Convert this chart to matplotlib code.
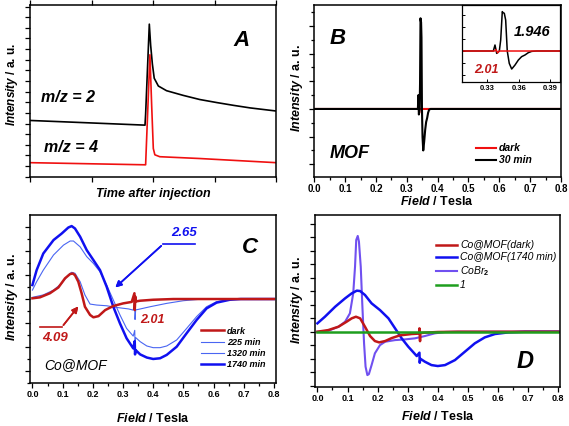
import matplotlib.pyplot as plt
from matplotlib.lines import Line2D
from matplotlib.ticker import MultipleLocator, NullFormatter

plt.rcParams['font.family'] = ['Liberation Sans', 'DejaVu Sans']
plt.rcParams['font.weight'] = 'bold'
plt.rcParams['mathtext.fontset'] = 'custom'
plt.rcParams['mathtext.rm'] = 'Liberation Sans:bold'
plt.rcParams['mathtext.it'] = 'Liberation Sans:italic'
plt.rcParams['mathtext.bf'] = 'Liberation Sans:bold'
plt.rcParams['mathtext.bfit'] = 'Liberation Sans:italic:bold'

# ---- panel A: mass spec traces (arbitrary units) ----
a_time_h2 = [0, 0.6, 1.87, 1.88, 1.94, 1.962, 1.99, 2.02, 2.087, 2.22, 2.49, 2.76, 3.04, 3.31, 3.58, 4.0]
a_mz2 = [4.29, 4.15, 3.85, 4.88, 13.35, 11.35, 9.59, 8.26, 7.53, 7.09, 6.65, 6.26, 5.97, 5.71, 5.47, 5.18]
a_time_d2 = [0, 1.87, 1.88, 1.95, 1.978, 2.005, 2.03, 2.11, 2.76, 4.0]
a_mz4 = [0.32, 0.12, 0.12, 10.47, 5.76, 1.65, 1.06, 0.88, 0.71, 0.32]

# ---- panel B: MOF EPR ----
b_field_30 = [0, 0.3359, 0.3375, 0.3391, 0.3416, 0.3429, 0.3444, 0.3450, 0.3463, 0.3476, 0.3491,
              0.3510, 0.3533, 0.3564, 0.3596, 0.3627, 0.3659, 0.3690, 0.3722, 0.3769, 0.8]
b_30min = [0, 0, 0.5, -0.2, 0, 0.92, 3.28, 3.2, 3.14, 2.58, 0,
           -1.03, -1.5, -1.17, -0.75, -0.47, -0.33, -0.14, -0.03, 0, 0]
b_field_dark = [0, 0.337, 0.3385, 0.340, 0.3415, 0.8]
b_dark = [0, 0, 0.12, -0.15, 0, 0]

# ---- panel C: Co@MOF EPR vs irradiation time ----
c_field_dark = [0, 0.025, 0.058, 0.086, 0.108, 0.125, 0.134, 0.141, 0.152, 0.163, 0.174, 0.191, 0.202,
                0.219, 0.241, 0.268, 0.301, 0.329, 0.338, 0.339, 0.341, 0.342, 0.357, 0.40, 0.467, 0.8]
c_dark = [0.03, 0.07, 0.24, 0.48, 0.86, 1.04, 1.06, 0.99, 0.72, 0.24, -0.32, -0.66, -0.76,
          -0.71, -0.46, -0.29, -0.18, -0.12, 0.24, -0.46, 0.1, -0.1, -0.07, -0.03, 0, 0]
c_field_225 = [0, 0.036, 0.07, 0.097, 0.119, 0.13, 0.141, 0.158, 0.174, 0.191, 0.213, 0.246, 0.279,
               0.318, 0.334, 0.339, 0.340, 0.342, 0.351, 0.39, 0.445, 0.5, 0.555, 0.61, 0.8]
c_225 = [0.07, 0.17, 0.37, 0.65, 1.0, 1.11, 1.07, 0.72, 0.17, -0.21, -0.25, -0.28, -0.35,
         -0.41, -0.46, -0.1, -0.85, -0.45, -0.43, -0.32, -0.18, -0.07, -0.01, 0, 0]
c_field_1320 = [0, 0.014, 0.036, 0.07, 0.103, 0.125, 0.136, 0.158, 0.18, 0.202, 0.224, 0.246, 0.268,
                0.29, 0.312, 0.334, 0.339, 0.340, 0.342, 0.357, 0.379, 0.40, 0.423, 0.445, 0.478,
                0.511, 0.544, 0.577, 0.61, 0.654, 0.69, 0.8]
c_1320 = [0.37, 0.72, 1.2, 1.83, 2.24, 2.41, 2.41, 2.17, 1.76, 1.48, 1.13, 0.58, -0.04,
          -0.66, -1.22, -1.54, -1.3, -1.9, -1.6, -1.77, -1.95, -2.02, -2.02, -1.95, -1.70,
          -1.22, -0.73, -0.32, -0.11, -0.01, 0, 0]
c_field_1740 = [0, 0.014, 0.036, 0.07, 0.097, 0.119, 0.13, 0.141, 0.158, 0.18, 0.202, 0.224, 0.246,
                0.268, 0.29, 0.312, 0.334, 0.339, 0.340, 0.342, 0.357, 0.379, 0.40, 0.423, 0.445,
                0.478, 0.511, 0.544, 0.577, 0.61, 0.654, 0.69, 0.8]
c_1740 = [0.58, 1.2, 1.89, 2.45, 2.72, 2.97, 3.03, 2.93, 2.59, 2.03, 1.62, 1.20, 0.51,
          -0.32, -1.01, -1.63, -2.05, -1.75, -2.3, -2.12, -2.30, -2.43, -2.49, -2.46, -2.32,
          -1.98, -1.42, -0.87, -0.39, -0.15, -0.03, 0, 0]

# ---- panel D: comparison ----
d_field_dark = [0, 0.036, 0.07, 0.097, 0.114, 0.128, 0.142, 0.158, 0.175, 0.191, 0.205, 0.225,
                0.247, 0.274, 0.313, 0.338, 0.339, 0.341, 0.342, 0.357, 0.40, 0.467, 0.8]
d_dark = [0, 0.12, 0.37, 0.74, 0.99, 1.11, 0.99, 0.37, -0.32, -0.69, -0.79, -0.69,
          -0.47, -0.27, -0.17, -0.14, 0.25, -0.7, -0.1, -0.07, -0.02, 0, 0]
d_field_1740 = [0, 0.025, 0.059, 0.092, 0.114, 0.131, 0.142, 0.158, 0.18, 0.208, 0.236, 0.258,
                0.28, 0.302, 0.33, 0.339, 0.340, 0.342, 0.357, 0.379, 0.40, 0.424, 0.457, 0.49,
                0.523, 0.556, 0.59, 0.634, 0.69, 0.8]
d_1740 = [0.62, 1.11, 1.85, 2.47, 2.84, 3.04, 3.01, 2.72, 2.10, 1.60, 0.99, 0.25,
          -0.49, -1.11, -1.80, -1.55, -2.3, -2.0, -2.22, -2.47, -2.54, -2.47, -2.10, -1.48,
          -0.86, -0.42, -0.17, -0.05, 0, 0]
d_field_cobr2 = [0, 0.036, 0.07, 0.092, 0.108, 0.119, 0.125, 0.129, 0.134, 0.138, 0.144, 0.149,
                 0.155, 0.16, 0.166, 0.171, 0.18, 0.191, 0.208, 0.225, 0.258, 0.291, 0.324, 0.357,
                 0.39, 0.424, 0.467, 0.8]
d_cobr2 = [0, 0.07, 0.37, 0.74, 1.36, 2.84, 4.81, 6.79, 7.09, 6.67, 4.81, 2.10,
           -0.86, -2.59, -3.21, -3.14, -2.47, -1.60, -0.99, -0.74, -0.62, -0.57, -0.49, -0.32,
           -0.12, -0.02, 0, 0]
d_field_ligand = [0, 0.8]
d_ligand = [0, 0]

W, H = 569, 426
RED = '#f01010'
DARKRED = '#c01818'
BLUE = '#1010f0'
LBLUE = '#4a66f2'
VIOLET = '#7050f0'
GREEN = '#1e9e1e'
YLAB = r'$\mathbfit{Intensity}$ / a. u.'
XLAB = r'$\mathbfit{Field}$ / Tesla'


def rect(l, t, r, b):
    return [l / W, 1 - b / H, (r - l) / W, (b - t) / H]


def fp(x, y):
    return (x / W, 1 - y / H)


def style_axes(ax, size=6.8):
    for s in ax.spines.values():
        s.set_linewidth(1.1)
    ax.tick_params(axis='both', which='both', direction='out', width=0.9, labelsize=size, pad=1.5)
    ax.tick_params(axis='both', which='major', length=3.5)
    ax.tick_params(axis='both', which='minor', length=2)
    ax.yaxis.set_major_formatter(NullFormatter())


def label(x, y, s, size, **kw):
    fig.text(*fp(x, y), s, fontsize=size, fontweight='bold', style='italic', ha='center', va='center', **kw)


fig = plt.figure(figsize=(W / 100, H / 100), dpi=100)

# A
axA = fig.add_axes(rect(30, 5, 276, 176.7))
axA.plot(a_time_h2, a_mz2, color='black', lw=1.2)
axA.plot(a_time_d2, a_mz4, color=RED, lw=1.2)
axA.set_xlim(0, 4)
axA.set_ylim(-1, 15.15)
axA.yaxis.set_major_locator(MultipleLocator(1))
axA.xaxis.set_major_locator(MultipleLocator(1))
style_axes(axA)
axA.tick_params(axis='x', top=True, labelbottom=False)
label(242, 40, 'A', 16)
label(68, 98, 'm/z = 2', 11.5)
label(71, 147, 'm/z = 4', 11.5)
label(153, 194, 'Time after injection', 9)
fig.text(*fp(12, 85), YLAB, fontsize=8.5, rotation=90, ha='center', va='center')

# B
axB = fig.add_axes(rect(314.3, 5, 561, 176.7))
axB.plot(b_field_dark, b_dark, color=RED, lw=1.5, label='dark')
axB.plot(b_field_30, b_30min, color='black', lw=1.5, label='30 min')
axB.set_xlim(0, 0.8)
axB.set_ylim(-2.45, 3.76)
axB.xaxis.set_major_locator(MultipleLocator(0.1))
axB.xaxis.set_minor_locator(MultipleLocator(0.05))
axB.yaxis.set_major_locator(MultipleLocator(1))
axB.yaxis.set_minor_locator(MultipleLocator(0.5))
style_axes(axB, 7)
axB.legend(loc='upper left', bbox_to_anchor=fp(471, 138), bbox_transform=fig.transFigure,
           frameon=False, handlelength=1.9, handletextpad=0.3, labelspacing=0.2, borderpad=0,
           prop=dict(size=7.5, weight='bold', style='italic'))
label(338, 38, 'B', 16)
label(350, 153, 'MOF', 13)
fig.text(*fp(437, 201), XLAB, fontsize=9, ha='center', va='center')
fig.text(*fp(297, 88), YLAB, fontsize=9, rotation=90, ha='center', va='center')

axI = fig.add_axes(rect(461.7, 5, 560, 82))
axI.plot(b_field_30, b_30min, color='black', lw=1.1)
axI.plot(b_field_dark, b_dark, color=RED, lw=1.1)
axI.set_xlim(0.306, 0.399)
axI.set_ylim(-2.58, 3.83)
axI.set_xticks([0.33, 0.36, 0.39])
axI.yaxis.set_major_locator(MultipleLocator(1))
for s in axI.spines.values():
    s.set_linewidth(0.9)
axI.tick_params(axis='both', direction='in', length=2, width=0.7, labelsize=5.5, pad=2)
axI.yaxis.set_major_formatter(NullFormatter())
label(532, 32, '1.946', 10.5)
label(486, 70, '2.01', 9, color=DARKRED)

# C
axC = fig.add_axes(rect(30, 215, 276, 383.3))
axC.plot(c_field_225, c_225, color=LBLUE, lw=0.8, label='225 min')
axC.plot(c_field_1320, c_1320, color=LBLUE, lw=0.8, label='1320 min')
axC.plot(c_field_1740, c_1740, color=BLUE, lw=1.8, label='1740 min')
axC.plot(c_field_dark, c_dark, color=DARKRED, lw=1.8, label='dark')
axC.set_xlim(-0.008, 0.807)
axC.set_ylim(-3.5, 3.49)
axC.xaxis.set_major_locator(MultipleLocator(0.1))
axC.xaxis.set_minor_locator(MultipleLocator(0.05))
axC.yaxis.set_major_locator(MultipleLocator(1))
axC.yaxis.set_minor_locator(MultipleLocator(0.5))
style_axes(axC, 6.5)
h, l = axC.get_legend_handles_labels()
order = [3, 0, 1, 2]
axC.legend([h[i] for i in order], [l[i] for i in order], loc='upper left',
           bbox_to_anchor=fp(196, 322), bbox_transform=fig.transFigure,
           frameon=False, handlelength=2.6, handletextpad=0.3, labelspacing=0.25, borderpad=0,
           prop=dict(size=6.5, weight='bold', style='italic'))
label(250, 248, 'C', 16)
fig.text(*fp(76, 365), 'Co@MOF', fontsize=10, style='italic', fontweight='normal', ha='center', va='center')
label(184, 233, '2.65', 9.5, color=BLUE)
label(55, 338, '4.09', 9.5, color=DARKRED)
label(152, 320, '2.01', 9, color=DARKRED)
fig.add_artist(Line2D([163.3 / W, 195 / W], [1 - 244 / H, 1 - 244 / H], color=BLUE, lw=1.2, transform=fig.transFigure))
fig.add_artist(Line2D([40 / W, 61.7 / W], [1 - 327.3 / H, 1 - 327.3 / H], color=DARKRED, lw=1.2, transform=fig.transFigure))
fig.add_artist(plt.annotate('', xy=fp(113.3, 289.3), xytext=fp(163.3, 244), xycoords='figure fraction',
                            arrowprops=dict(arrowstyle='-|>', color=BLUE, lw=1.2, mutation_scale=9)))
fig.add_artist(plt.annotate('', xy=fp(80, 304.3), xytext=fp(61.7, 327.3), xycoords='figure fraction',
                            arrowprops=dict(arrowstyle='-|>', color=DARKRED, lw=1.2, mutation_scale=9)))
fig.text(*fp(153, 419), XLAB, fontsize=9, ha='center', va='center')
fig.text(*fp(12, 297), YLAB, fontsize=9, rotation=90, ha='center', va='center')

# D
axD = fig.add_axes(rect(315, 215, 560.3, 386.7))
axD.plot(d_field_cobr2, d_cobr2, color=VIOLET, lw=1.5, label=r'CoBr$_2$')
axD.plot(d_field_1740, d_1740, color=BLUE, lw=1.8, label='Co@MOF(1740 min)')
axD.plot(d_field_dark, d_dark, color=DARKRED, lw=1.8, label='Co@MOF(dark)')
axD.plot(d_field_ligand, d_ligand, color=GREEN, lw=1.8, label='1')
axD.set_xlim(-0.008, 0.807)
axD.set_ylim(-4.07, 8.64)
axD.xaxis.set_major_locator(MultipleLocator(0.1))
axD.xaxis.set_minor_locator(MultipleLocator(0.05))
axD.yaxis.set_major_locator(MultipleLocator(1))
style_axes(axD, 6.5)
h, l = axD.get_legend_handles_labels()
order = [2, 1, 0, 3]
axD.legend([h[i] for i in order], [l[i] for i in order], loc='upper left',
           bbox_to_anchor=fp(431, 235), bbox_transform=fig.transFigure,
           frameon=False, handlelength=2.0, handletextpad=0.3, labelspacing=0.2, borderpad=0,
           prop=dict(size=7.5, style='italic', weight='normal'))
label(525, 362, 'D', 17)
fig.text(*fp(438, 416), XLAB, fontsize=9, ha='center', va='center')
fig.text(*fp(297, 300), YLAB, fontsize=9, rotation=90, ha='center', va='center')

fig.savefig('out.png', dpi=100)
